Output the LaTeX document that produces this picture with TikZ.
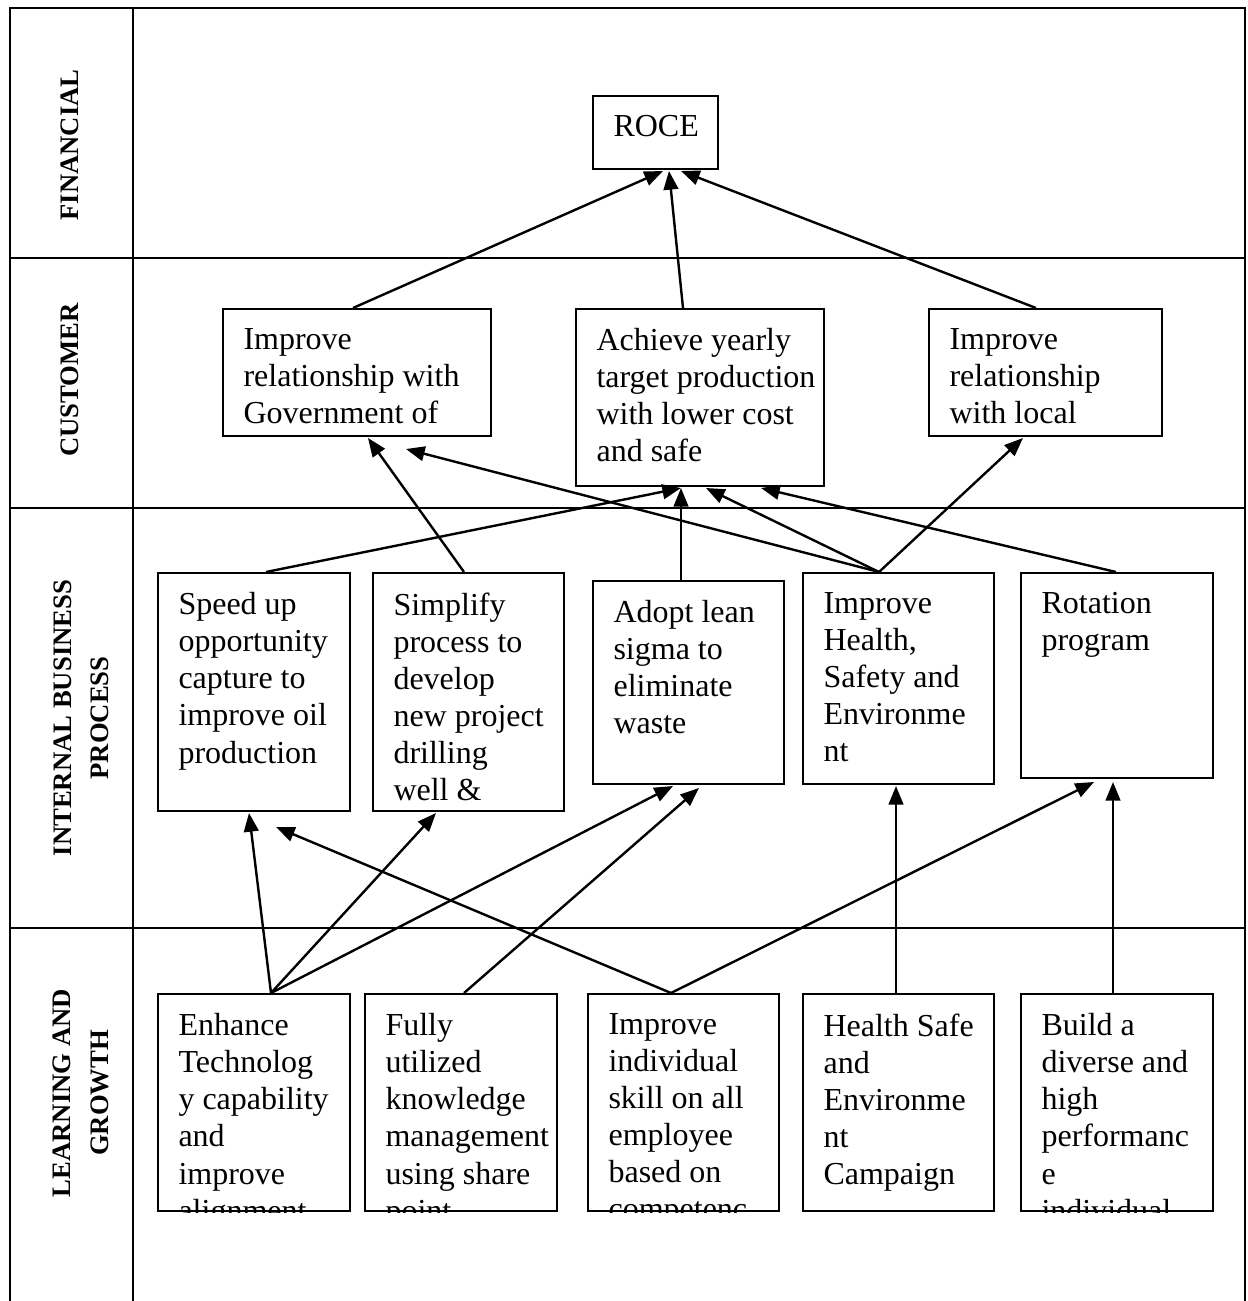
\documentclass[tikz,border=0pt]{standalone}
\usepackage{fontspec}
\setmainfont{Liberation Serif}
\usetikzlibrary{arrows.meta,calc}

\newcommand{\pxu}{0.375pt}
\tikzset{
  tbl/.style={line width=1.1pt},
  obj/.style={draw, line width=0.75pt, anchor=north west, inner sep=0pt},
  objtext/.style={anchor=north west, align=left, inner sep=0pt, font=\fontsize{12}{13.9}\selectfont},
  lane/.style={rotate=90, align=center, font=\fontsize{10}{14}\selectfont\bfseries},
  arr/.style={-{Triangle[length=7pt,width=5.5pt]}, line width=0.9pt},
}
% box, then its text cut off at the border
\newcommand{\objbox}[6]{%
  \node[obj, minimum width=#4*\pxu, minimum height=#5*\pxu] (#1) at (#2,#3) {};
  \begin{scope}
    \clip (#1.north west) rectangle (#1.south east);
    \node[objtext] (#1txt) at ($(#1.north west)+(21,20)$) {#6};
  \end{scope}}

\begin{document}
\begin{tikzpicture}[x=\pxu, y=-\pxu]
  \useasboundingbox (0,0) rectangle (1247,1301);

  % table
  \draw[tbl] (10,1301) -- (10,8) -- (1245,8) -- (1245,1301);
  \draw[tbl] (133,8) -- (133,1301);
  \foreach \yy in {258,508,928}
    \draw[tbl] (10,\yy) -- (1245,\yy);

  \node[lane] (fin) at (70,145) {FINANCIAL};
  \node[lane] (cust) at (70,380) {CUSTOMER};
  \node[lane] (ibp) at (81,718) {INTERNAL BUSINESS\\PROCESS};
  \node[lane] (lag) at (81,1093) {LEARNING AND\\GROWTH};

  % financial
  \objbox{roce}{592}{95}{125}{73}{ROCE}

  % customer
  \objbox{gov}{222}{308}{268}{127}{Improve\\relationship with\\Government of}
  \objbox{ach}{575}{308}{248}{177}{Achieve yearly\\target production\\with lower cost\\and safe}
  \objbox{loc}{928}{308}{233}{127}{Improve\\relationship\\with local}

  % internal business process
  \objbox{speed}{157}{572}{192}{238}{Speed up\\opportunity\\capture to\\improve oil\\production}
  \objbox{simp}{372}{572}{191}{238}{Simplify\\process to\\develop\\new project\\drilling\\well \&}
  \objbox{adopt}{592}{580}{191}{203}{Adopt lean\\sigma to\\eliminate\\waste}
  \objbox{hse}{802}{572}{191}{211}{Improve\\Health,\\Safety and\\Environme\\nt}
  \objbox{rot}{1020}{572}{192}{205}{Rotation\\program}

  % learning and growth
  \objbox{tech}{157}{993}{192}{217}{Enhance\\Technolog\\y capability\\and\\improve\\alignment}
  \objbox{know}{364}{993}{192}{217}{Fully\\utilized\\knowledge\\management\\using share\\point}
  \objbox{skill}{587}{993}{191}{217}{Improve\\individual\\skill on all\\employee\\based on\\competenc}
  \objbox{camp}{802}{993}{191}{217}{Health Safe\\and\\Environme\\nt\\Campaign}
  \objbox{div}{1020}{993}{192}{217}{Build a\\diverse and\\high\\performanc\\e\\individual}

  % links
  \draw[arr] ($(gov.north)+(-4,0)$) -- ($(roce.south)+(7.5,1)$);
  \draw[arr] ($(ach.north)+(-17,0)$) -- ($(roce.south)+(13.5,1)$);
  \draw[arr] ($(loc.north)+(-9.5,0)$) -- ($(roce.south)+(25.5,1)$);

  \draw[arr] ($(speed.north)+(12,0)$) -- ($(ach.south)+(-19,1)$);
  \draw[arr] ($(simp.north)+(-4.5,0)$) -- ($(gov.south)+(11,1)$);
  \draw[arr] ($(adopt.north)+(-7.5,0)$) -- ($(ach.south)+(-19,1)$);
  \draw[arr] ($(hse.north)+(-19.5,0)$) -- ($(gov.south)+(49,12)$);
  \draw[arr] ($(hse.north)+(-19.5,0)$) -- ($(ach.south)+(6,1)$);
  \draw[arr] ($(hse.north)+(-19.5,0)$) -- ($(loc.south)+(-22.5,1)$);
  \draw[arr] ($(rot.north)+(-1,0)$) -- ($(ach.south)+(61,1)$);

  \draw[arr] ($(tech.north)+(17,0)$) -- ($(speed.south)+(-5,1)$);
  \draw[arr] ($(tech.north)+(17,0)$) -- ($(simp.south)+(-32.5,1)$);
  \draw[arr] ($(tech.north)+(17,0)$) -- ($(adopt.south)+(-15.5,1)$);
  \draw[arr] ($(know.north)+(3,0)$) -- ($(adopt.south)+(10.5,3)$);
  \draw[arr] ($(skill.north)+(-12.5,0)$) -- ($(speed.south)+(22,15)$);
  \draw[arr] ($(skill.north)+(-12.5,0)$) -- ($(rot.south)+(-23,3)$);
  \draw[arr] ($(camp.north)+(-2.5,0)$) -- ($(hse.south)+(-2.5,1)$);
  \draw[arr] ($(div.north)+(-4,0)$) -- ($(rot.south)+(-4,3)$);
\end{tikzpicture}
\end{document}
